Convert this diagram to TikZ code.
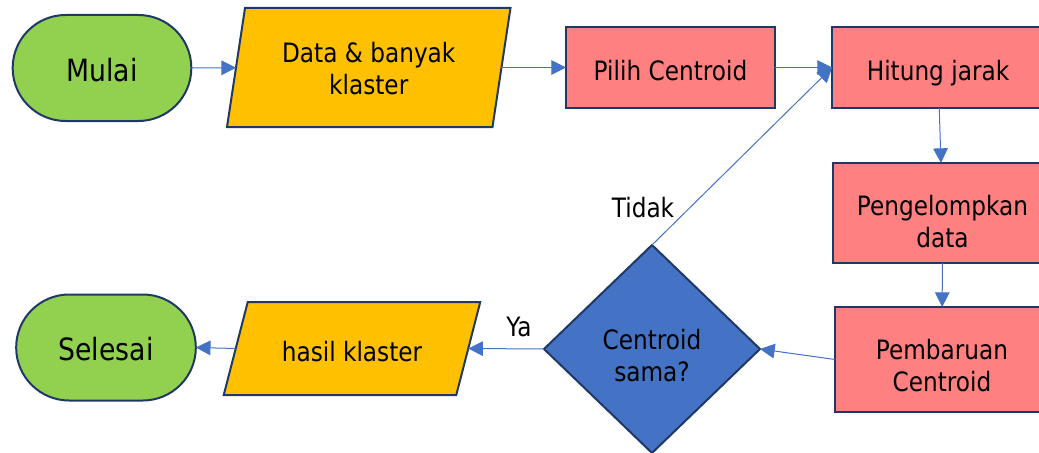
\documentclass[tikz,border=0pt]{standalone}
\usepackage{fontspec}
\setmainfont{DejaVu Sans}[FakeStretch=0.87]
\usetikzlibrary{shapes.geometric,shapes.misc,arrows.meta,backgrounds}

\definecolor{hijau}{HTML}{92D050}
\definecolor{kuning}{HTML}{FFC000}
\definecolor{merah}{HTML}{FF8080}
\definecolor{biru}{HTML}{4472C4}
\definecolor{garis}{HTML}{1F3864}

\newcommand{\naik}[1]{\rule{0pt}{#1}}

\tikzset{
  base/.style={draw=garis, line width=1.5pt, align=center, inner sep=2pt, outer sep=0pt,
    font=\fontsize{20}{24}\selectfont},
  terminal/.style={base, rounded rectangle, fill=hijau, font=\fontsize{23}{27}\selectfont,
    text height=20pt, text depth=0pt},
  proses/.style={base, rectangle, fill=merah},
  satubaris/.style={text height=20.2pt, text depth=0pt},
  keputusan/.style={base, diamond, fill=biru},
  io/.style={align=center, inner sep=2pt, outer sep=0pt, font=\fontsize{20}{24}\selectfont},
  iobox/.style={fill=kuning, draw=garis, line width=1.5pt, line join=miter},
  panah/.style={draw=biru, line width=0.75pt, -{Triangle[length=11pt,width=11pt]}},
  teks/.style={font=\fontsize{20}{24}\selectfont}
}

\begin{document}
\begin{tikzpicture}[x=0.75pt, y=-0.75pt]
\useasboundingbox (0,0) rectangle (1039,453);

% Nodes
\node[terminal, minimum width=138pt, minimum height=79.5pt] (mulai) at (102,68) {Mulai};
\node[io, minimum width=199.1pt, minimum height=89.25pt] (data) at (368.75,67.5) {\naik{16.2pt}Data \& banyak\\klaster};
\node[proses, satubaris, minimum width=156.75pt, minimum height=60.75pt] (pilih) at (670.5,67.5) {Pilih Centroid};
\node[proses, satubaris, minimum width=159pt, minimum height=60.75pt] (hitung) at (938,67.5) {Hitung jarak};
\node[proses, minimum width=164.25pt, minimum height=75pt] (kelompok) at (942.5,213) {\naik{28.7pt}Pengelompkan\\data};
\node[proses, minimum width=160.5pt, minimum height=78.75pt] (update) at (942,359.5) {\naik{24.8pt}Pembaruan\\Centroid};
\node[keputusan, minimum width=162pt, minimum height=156pt] (cek) at (652,349) {\naik{24.5pt}Centroid\\sama?};
\node[io, satubaris, minimum width=174.4pt, minimum height=69.75pt] (hasil) at (352,348.5) {hasil klaster};
\node[terminal, minimum width=138.75pt, minimum height=79.5pt] (selesai) at (106,347.5) {Selesai};

% Parallelograms
\begin{scope}[on background layer]
\foreach \n/\s in {data/6.75, hasil/9}
  \draw[iobox] ([xshift=-\s pt]\n.south west) -- ([xshift=-\s pt]\n.south east)
    -- ([xshift=\s pt]\n.north east) -- ([xshift=\s pt]\n.north west) -- cycle;
\end{scope}

% Arrows
\draw[panah] (mulai) -- (data);
\draw[panah] (data) -- (pilih);
\draw[panah] (pilih) -- (hitung.west);
\draw[panah] (hitung) -- (kelompok);
\draw[panah] (kelompok) -- (update);
\draw[panah] (update.west) -- (cek.east);
\draw[panah] (cek.west) -- (hasil.east);
\draw[panah] (hasil.west) -- (selesai.east);
\draw[panah] (cek.north) -- (hitung.west);

% Labels
\node[teks] (tidak) at (643,208) {Tidak};
\node[teks] (ya) at (519,327) {Ya};
\end{tikzpicture}
\end{document}
